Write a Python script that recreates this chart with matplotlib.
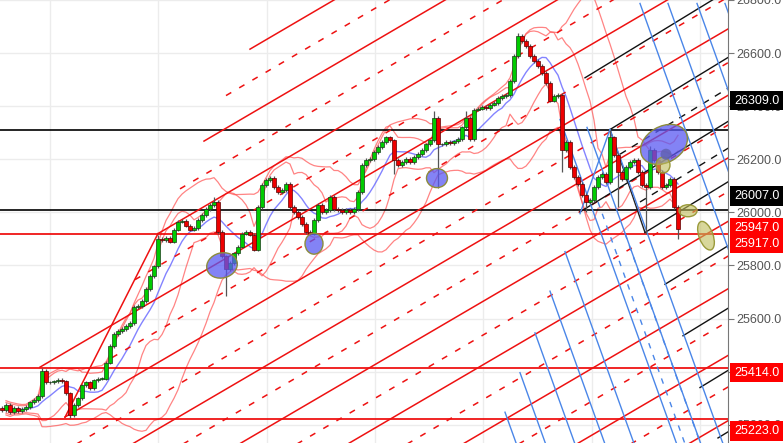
import numpy as np
import pandas as pd
import matplotlib
matplotlib.use("Agg")
import matplotlib.pyplot as plt
import matplotlib.transforms as mtransforms
from matplotlib.patches import Ellipse

plt.rcParams['font.family'] = ['Liberation Sans', 'DejaVu Sans']

# ---------------- data ----------------
closes = [25254, 25273, 25247, 25262, 25251, 25258, 25266, 25284, 25292, 25307,
          25404, 25359, 25359, 25363, 25370, 25363, 25318, 25236, 25273, 25299,
          25348, 25359, 25337, 25367, 25374, 25374, 25434, 25497, 25542, 25553,
          25561, 25572, 25583, 25643, 25647, 25666, 25710, 25759, 25796, 25901,
          25897, 25905, 25890, 25935, 25965, 25968, 25950, 25935, 25942, 25972,
          25991, 26013, 26028, 26039, 25927, 25834, 25785, 25808, 25845, 25871,
          25920, 25927, 25916, 25860, 26021, 26103, 26122, 26129, 26095, 26077,
          26084, 26107, 26021, 26002, 25983, 25957, 25927, 25920, 25972, 26028,
          26002, 26009, 26058, 26013, 26009, 26002, 26009, 26002, 26013, 26077,
          26178, 26196, 26200, 26226, 26245, 26264, 26282, 26271, 26196, 26178,
          26189, 26200, 26189, 26208, 26219, 26234, 26256, 26271, 26357, 26256,
          26256, 26264, 26260, 26267, 26275, 26320, 26357, 26275, 26387, 26391,
          26398, 26394, 26406, 26413, 26432, 26439, 26443, 26495, 26589, 26664,
          26645, 26626, 26589, 26570, 26551, 26525, 26488, 26421, 26439, 26443,
          26234, 26264, 26170, 26133, 26107, 26066, 26039, 26047, 26095, 26133,
          26144, 26114, 26282, 26215, 26152, 26125, 26170, 26189, 26196, 26152,
          26103, 26095, 26234, 26196, 26152, 26095, 26103, 26125, 26021, 25939]
first_open = 25262
wick_high = {10: 25415, 39: 25915, 53: 26058, 108: 26383, 116: 26383,
             129: 26675, 152: 26312, 162: 26250}
wick_low = {17: 25225, 56: 25684, 98: 26144, 109: 26092, 140: 26152,
            146: 26002, 154: 26021, 161: 25920, 169: 25901}
default_wick = 7

h_black = [26309, 26007]
h_red = [25917, 25414, 25223]
labels_black = [("26309.0", 26421), ("26007.0", 26062)]
labels_red = [("25947.0", 25942), ("25917.0", 25882), ("25414.0", 25396), ("25223.0", 25176)]
yticks = [25200, 25400, 25600, 25800, 26000, 26200, 26400, 26600, 26800]
grid_x = [12, 39, 66.25, 93.25, 120.25, 147.5, 174.5]

# angle lines (price at bar 0, first bar)
red_slope = 8.82
red_solid = [(26068, 62), (25823, 50.5), (25576, 39), (25333, 9.5), (25090, 15.75),
             (24840, -1), (24604, -1), (24365, -1), (24111, -1), (23860, -1), (23614, -1)]
red_dashed = [(25946, 56), (25696, 44.5), (25453, 33.25), (25210, 27.5), (24963, -1),
              (24728, -1), (24477, -1), (24234, -1), (23988, -1), (23741, -1)]
red_steep = [(15.75, 25228), (39, 25920)]

black_slope = 9.2
black_solid = [(145.75, 26507), (152, 26312), (144.5, 26002), (160.75, 25924),
               (165.75, 25729), (170.25, 25535), (174.5, 25340), (179, 25150)]
black_dashed = [(154.5, 26219), (159.5, 26039)]
black_zig = [(152, 26312), (160.75, 25924)]

blue_slope = -41.9
blue_solid = [(125.75, 25247), (129.5, 25396), (133.25, 25546), (137, 25703), (140.75, 25852),
              (139.5, 26350), (146.25, 26320), (152, 26312),
              (159.5, 26787), (166.5, 26787), (173.75, 26787), (180.75, 26787)]
blue_dashed = [(149, 26039), (155.75, 25920)]
blue_zig = [(144.5, 25995), (152, 26312)]

# ellipses: (bar, price, width px, height px, angle, kind)
ellipses = [(55, 25800, 31, 25, 15, 'blue'), (78, 25882, 18, 21, 0, 'blue'),
            (108.75, 26129, 21, 19, 0, 'blue'), (165.5, 26256, 50, 36, 30, 'blue'),
            (165.25, 26178, 14, 16, 0, 'olive'), (166, 26219, 11, 11, 0, 'dark'),
            (171.5, 26006, 18, 12, 0, 'olive'), (176, 25912, 14, 30, 20, 'olive')]

# ---------------- figure ----------------
fig = plt.figure(figsize=(7.84, 4.43), dpi=100)
ax = fig.add_axes([0, 0, 728 / 784, 1])
XMIN, XMAX = -0.5, 181.5
ax.set_xlim(XMIN, XMAX)
ax.set_ylim(25131, 26787)

ax.set_xticks(grid_x)
ax.set_xticklabels([])
ax.tick_params(axis='x', length=0)
ax.set_yticks(yticks)
ax.yaxis.tick_right()
ax.set_yticklabels([f"{v:.1f}" for v in yticks])
ax.tick_params(axis='y', length=4, color='#777777', labelcolor='#555555',
               labelsize=9, pad=2, direction='out')
ax.grid(True, color='#ececec', lw=1)
ax.set_axisbelow(True)
for s in ['left', 'top', 'bottom']:
    ax.spines[s].set_visible(False)
ax.spines['right'].set_color('#777777')

n = len(closes)
idx = np.arange(n)
c = np.array(closes, float)
o = np.concatenate([[first_open], c[:-1]])

# indicators
s = pd.Series(c)
ma = s.rolling(9, min_periods=1).mean()
m20 = s.rolling(20, min_periods=2).mean()
sd20 = s.rolling(20, min_periods=2).std()
m10 = s.rolling(10, min_periods=2).mean()
sd10 = s.rolling(10, min_periods=2).std()
for band in [m20 + 2 * sd20, m20 - 2 * sd20, m10 + 1.5 * sd10, m10 - 1.5 * sd10]:
    ax.plot(idx, band, color='#ff5050', lw=0.9, alpha=0.7, zorder=2)
ax.plot(idx, ma, color='#5a5aff', lw=1.0, alpha=0.75, zorder=2.2)

# horizontal levels
for v in h_black:
    ax.axhline(v, color='black', lw=1.2, zorder=2.3)
for v in h_red:
    ax.axhline(v, color='#ee0000', lw=1.2, zorder=2.3)


def ray(x0, p0_at0, slope, **kw):
    xa = max(x0, XMIN - 50)
    xx = np.array([xa, XMAX + 5])
    ax.plot(xx, p0_at0 + slope * xx, **kw)


for p0, st in red_solid:
    ray(st, p0, red_slope, color='#ee1111', lw=1.1, zorder=2.4)
for p0, st in red_dashed:
    ray(st, p0, red_slope, color='#ee1111', lw=1.1, ls=(0, (4, 6)), zorder=2.4)
ax.plot([red_steep[0][0], red_steep[1][0]], [red_steep[0][1], red_steep[1][1]],
        color='#ee1111', lw=1.1, zorder=2.4)


def ray_from(pt, slope, **kw):
    x0, p0 = pt
    xx = np.array([x0, XMAX + 5])
    ax.plot(xx, p0 + slope * (xx - x0), **kw)


for pt in black_solid:
    ray_from(pt, black_slope, color='#111111', lw=1.0, zorder=2.4)
for pt in black_dashed:
    ray_from(pt, black_slope, color='#111111', lw=1.0, ls=(0, (5, 5)), zorder=2.4)
ax.plot([black_zig[0][0], black_zig[1][0]], [black_zig[0][1], black_zig[1][1]],
        color='#222222', lw=1.0, zorder=2.4)

for pt in blue_solid:
    ray_from(pt, blue_slope, color='#4a86e8', lw=1.0, zorder=2.4)
for pt in blue_dashed:
    ray_from(pt, blue_slope, color='#4a86e8', lw=1.0, ls=(0, (4, 5)), zorder=2.4)
ax.plot([blue_zig[0][0], blue_zig[1][0]], [blue_zig[0][1], blue_zig[1][1]],
        color='#4a86e8', lw=1.0, zorder=2.4)

# candles
hi = np.maximum(o, c) + default_wick
lo = np.minimum(o, c) - default_wick
for k, v in wick_high.items():
    hi[k] = v
for k, v in wick_low.items():
    lo[k] = v
ax.vlines(idx, lo, hi, color='#555555', lw=0.9, zorder=3)
up = c >= o
body_h = np.maximum(np.abs(c - o), 2)
ax.bar(idx[up], body_h[up], bottom=np.minimum(o, c)[up], width=0.8,
       color='#00cc00', edgecolor='#1a3a1a', lw=0.5, zorder=3.2)
ax.bar(idx[~up], body_h[~up], bottom=np.minimum(o, c)[~up], width=0.8,
       color='#ee0000', edgecolor='#5a0000', lw=0.5, zorder=3.2)

# ellipses (sized in pixels, placed in data coordinates)
styles = {'blue': dict(fc=(0.35, 0.35, 0.95, 0.75), ec='#8c8c3c', lw=1.0),
          'olive': dict(fc=(0.75, 0.74, 0.35, 0.6), ec='#9a9a3a', lw=1.0),
          'dark': dict(fc=(0.38, 0.38, 0.7, 0.85), ec='none', lw=0)}
for (bx, bp, w, h, ang, kind) in ellipses:
    tr = fig.dpi_scale_trans + mtransforms.ScaledTranslation(bx, bp, ax.transData)
    e = Ellipse((0, 0), w / 100, h / 100, angle=ang, transform=tr, zorder=4, **styles[kind])
    ax.add_patch(e)

# price labels on axis
btr = mtransforms.blended_transform_factory(ax.transAxes, ax.transData)
for txt, p, fc in [(t, p, 'black') for t, p in labels_black] + [(t, p, '#ff0000') for t, p in labels_red]:
    ax.annotate(txt, xy=(1.0, p), xycoords=btr, xytext=(6, 0), textcoords='offset pixels',
                ha='left', va='center', color='white', fontsize=9, zorder=10,
                annotation_clip=False,
                bbox=dict(boxstyle='square,pad=0.3', fc=fc, ec='none'))

fig.savefig('out.png', dpi=100)
